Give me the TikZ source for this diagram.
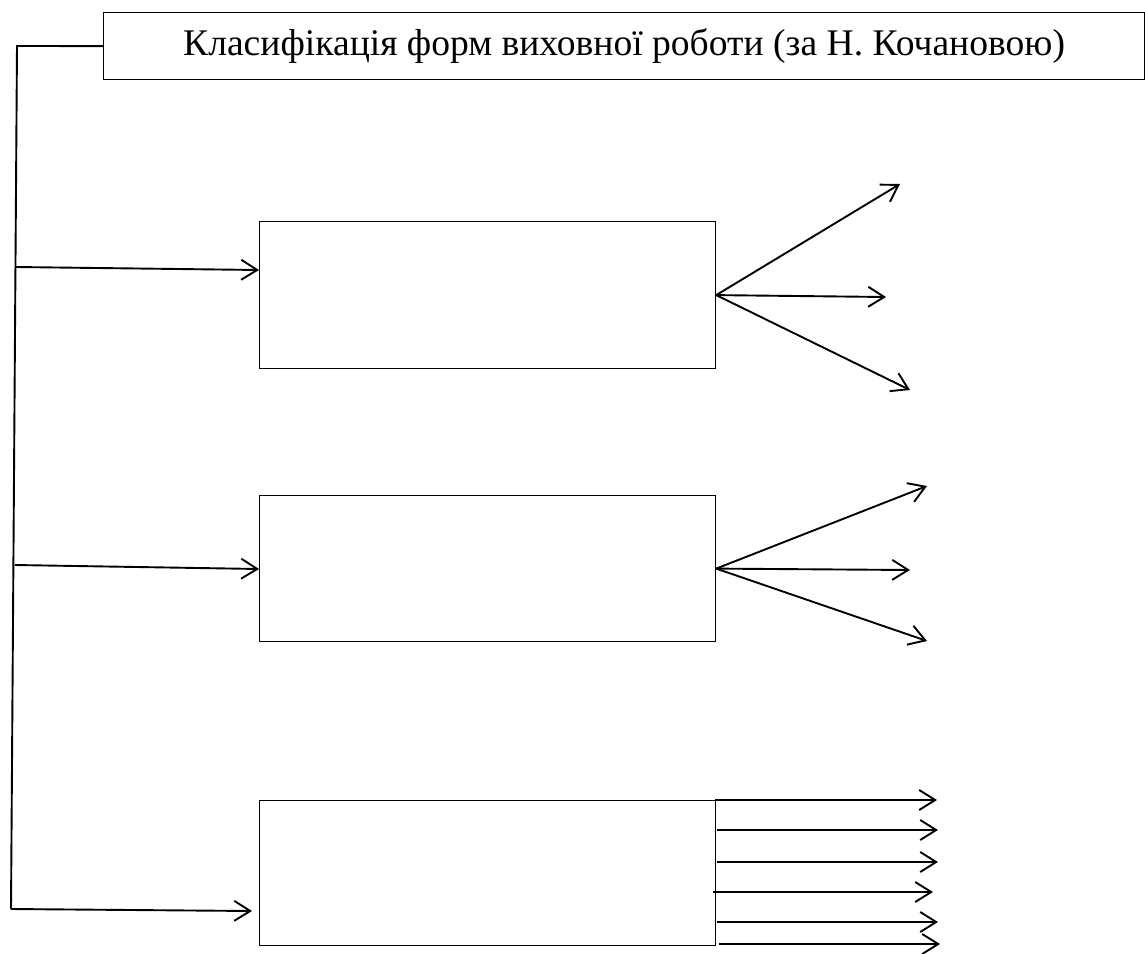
\documentclass[tikz,border=0pt]{standalone}
\usepackage{fontspec}
\setmainfont{Liberation Serif}
\usetikzlibrary{arrows.meta}
\begin{document}
\begin{tikzpicture}[x=1pt,y=-1pt,
  box/.style={draw, line width=1.2pt, rectangle, inner sep=0pt},
  conn/.style={line width=1.9pt},
  arr/.style={conn, -{Straight Barb[length=16pt,width=20pt]}}]
\useasboundingbox (0,0) rectangle (1145,953);
% title
\node[box, minimum width=1041pt, minimum height=67pt, anchor=north west,
      font=\fontsize{37.6}{42}\selectfont] (title) at (103,12)
      {Класифікація форм виховної роботи (за Н. Кочановою)};
% boxes
\node[box, minimum width=456pt, minimum height=147pt, anchor=north west] (b1) at (259,221) {};
\node[box, minimum width=456pt, minimum height=146pt, anchor=north west] (b2) at (259,495) {};
\node[box, minimum width=456pt, minimum height=145pt, anchor=north west] (b3) at (259,800) {};
% spine
\coordinate (top) at (17,46);
\coordinate (bot) at (11,909);
\coordinate (s1) at (16,267);
\coordinate (s2) at (15,565);
\coordinate (b1in) at (259,270);
\coordinate (b2in) at (259,569);
\coordinate (b3in) at (252,911);
\draw[conn] (title.west) -- (top) -- (bot);
\draw[arr] (s1) -- (b1in);
\draw[arr] (s2) -- (b2in);
\draw[arr] (bot) -- (b3in);
% fan 1
\coordinate (f1a) at (900,184);
\coordinate (f1b) at (886,297);
\coordinate (f1c) at (910,390);
\draw[arr] (b1.east) -- (f1a);
\draw[arr] (b1.east) -- (f1b);
\draw[arr] (b1.east) -- (f1c);
% fan 2
\coordinate (f2a) at (927,486);
\coordinate (f2b) at (910,570);
\coordinate (f2c) at (927,641);
\draw[arr] (b2.east) -- (f2a);
\draw[arr] (b2.east) -- (f2b);
\draw[arr] (b2.east) -- (f2c);
% box 3 outputs
\coordinate (o1s) at (715,800); \coordinate (o1e) at (937,800);
\coordinate (o2s) at (717,830); \coordinate (o2e) at (938,830);
\coordinate (o3s) at (717,862); \coordinate (o3e) at (938,862);
\coordinate (o4s) at (713,892); \coordinate (o4e) at (933,892);
\coordinate (o5s) at (717,922); \coordinate (o5e) at (938,922);
\coordinate (o6s) at (719,944); \coordinate (o6e) at (940,944);
\foreach \i in {1,...,6} { \draw[arr] (o\i s) -- (o\i e); }
\end{tikzpicture}
\end{document}
